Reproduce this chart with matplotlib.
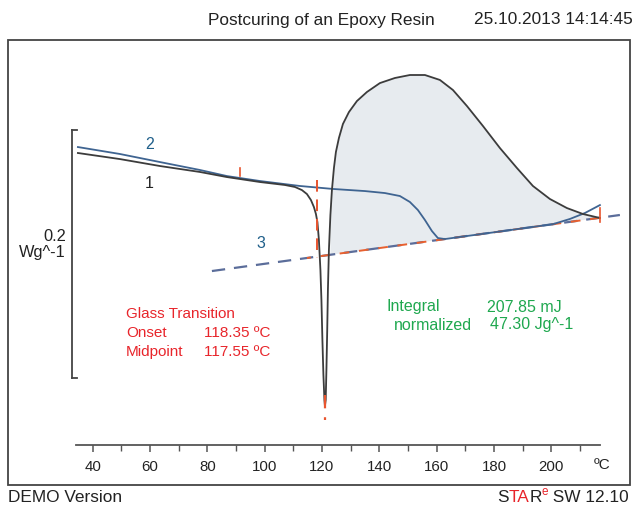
import numpy as np
import matplotlib
matplotlib.use("Agg")
import matplotlib.pyplot as plt
from matplotlib.patches import Rectangle

plt.rcParams['font.family'] = ['Liberation Sans', 'DejaVu Sans']

# ---- data (temperature in degC, heat flow in W/g) ----
curve1_T = [34.87, 49.52, 63.47, 77.43, 86.84, 98.35, 107.07, 110.56, 113.00, 114.75,
            116.14, 117.19, 117.89, 118.41, 118.93, 119.46, 119.81, 120.15, 120.50, 120.85,
            121.03, 121.30, 121.55, 121.83, 122.07, 122.42, 122.94, 123.47, 124.17, 124.86,
            125.91, 127.31, 129.40, 132.19, 135.68, 140.21, 145.45, 150.68, 155.91, 161.14,
            165.68, 170.56, 176.14, 182.07, 188.00, 193.58, 199.51, 205.44, 211.02, 216.95]
curve1_W = [0.2355, 0.2306, 0.2250, 0.2202, 0.2161, 0.2121, 0.2097, 0.2081, 0.2056, 0.2024,
            0.1976, 0.1919, 0.1863, 0.1798, 0.1653, 0.1411, 0.1169, 0.0847, 0.0565, 0.0363,
            0.0315, 0.0363, 0.0605, 0.0927, 0.1250, 0.1573, 0.1855, 0.2056, 0.2234, 0.2363,
            0.2476, 0.2589, 0.2685, 0.2774, 0.2847, 0.2919, 0.2960, 0.2984, 0.2984, 0.2944,
            0.2863, 0.2734, 0.2573, 0.2395, 0.2234, 0.2089, 0.1984, 0.1911, 0.1863, 0.1831]

curve2_T = [34.87, 49.52, 63.47, 77.43, 86.84, 98.35, 112.30, 123.81, 134.97, 141.94,
            147.18, 150.66, 153.46, 155.90, 158.34, 160.43, 162.88, 182.07, 200.56, 206.49,
            211.72, 216.95]
curve2_W = [0.2403, 0.2347, 0.2282, 0.2218, 0.2169, 0.2129, 0.2089, 0.2065, 0.2048, 0.2032,
            0.2008, 0.1960, 0.1895, 0.1815, 0.1726, 0.1669, 0.1661, 0.1722, 0.1781, 0.1823,
            0.1871, 0.1935]

baseline_T = [81.61, 223.92]
baseline_W = [0.1403, 0.1855]
red_base_T = [114.75, 218.70]
red_base_W = [0.1508, 0.1838]

onset_T = 118.35
onset_W = [0.2137, 0.1508]
dip_T = 121.2
dip_W = [0.0403, 0.0202]
tick_a_T = 91.4
tick_a_W = [0.2234, 0.2169]
tick_b_T = 216.95
tick_b_W = [0.1911, 0.1798]

x_major = [40, 60, 80, 100, 120, 140, 160, 180, 200]
x_minor = [50, 70, 90, 110, 130, 150, 170, 190, 210]
scale_bar_W = [0.0540, 0.2540]

W, H = 637, 508
fig = plt.figure(figsize=(W / 100, H / 100), dpi=100)
fig.patch.set_facecolor('white')

def fx(px):
    return px / W

def fy(py):
    return 1 - py / H

# frame
fig.patches.append(Rectangle((fx(8), fy(485)), fx(630) - fx(8), fy(40) - fy(485),
                             transform=fig.transFigure, fill=False,
                             edgecolor='#444444', linewidth=1.3))

ax = fig.add_axes([fx(76), fy(445), fx(625) - fx(76), fy(45) - fy(445)])
ax.set_xlim(34.2, 225.7)
ax.set_ylim(0, 0.3226)
ax.patch.set_alpha(0)
for s in ['top', 'right', 'left']:
    ax.spines[s].set_visible(False)
ax.spines['bottom'].set_bounds(34.2, 217.1)
ax.spines['bottom'].set_color('#555555')
ax.spines['bottom'].set_linewidth(1.3)
ax.set_yticks([])
ax.set_xticks(x_major)
ax.set_xticks(x_minor, minor=True)
ax.tick_params(axis='x', which='major', direction='out', length=5, width=1.1,
               color='#555555', labelsize=10.8, pad=6, labelcolor='#222222')
ax.tick_params(axis='x', which='minor', direction='out', length=4, width=1.0, color='#555555')

# shaded integral area
c1T = np.array(curve1_T)
c1W = np.array(curve1_W)
mask = c1T >= 122.94
fT = c1T[mask]
fW = c1W[mask]
bW = np.interp(fT, baseline_T, baseline_W)
ax.fill_between(fT, bW, fW, facecolor='#e7ebef', edgecolor='none', zorder=1)

# baseline 3 and red baseline
ax.plot(baseline_T, baseline_W, color='#5b6d9a', lw=1.6, ls=(0, (6, 4)), zorder=3, clip_on=False)
ax.plot(red_base_T, red_base_W, color='#e8602f', lw=1.4, ls=(3, (5, 5)), zorder=4, clip_on=False)

# curves
ax.plot(curve2_T, curve2_W, color='#3f6491', lw=1.3, zorder=5)
ax.plot(curve1_T, curve1_W, color='#3c3c3c', lw=1.3, zorder=6)

# red markers
ax.plot([onset_T, onset_T], onset_W, color='#e8552f', lw=1.4, ls=(0, (6, 4)), zorder=7)
ax.plot([dip_T, dip_T], dip_W, color='#e8552f', lw=1.6, ls=(0, (6, 4)), zorder=7)
ax.plot([tick_a_T, tick_a_T], tick_a_W, color='#e8552f', lw=1.2, zorder=7)
ax.plot([tick_b_T, tick_b_T], tick_b_W, color='#e8552f', lw=1.2, zorder=7)

# scale bar
ax.plot([32.8, 32.8], scale_bar_W, color='#444444', lw=1.3, clip_on=False)
ax.plot([32.8, 34.5], [scale_bar_W[0]] * 2, color='#444444', lw=1.3, clip_on=False)
ax.plot([32.8, 34.5], [scale_bar_W[1]] * 2, color='#444444', lw=1.3, clip_on=False)

def t(px, py, s, color='#222222', ha='left', size=11, **kw):
    return fig.text(fx(px), fy(py), s, color=color, ha=ha, va='center', fontsize=size, **kw)

# titles
t(208, 20, 'Postcuring of an Epoxy Resin', size=12.4)
t(633, 20, '25.10.2013 14:14:45', ha='right', size=12.4)
t(8, 497, 'DEMO Version', size=12.4)

# STARe SW 12.10
fig.canvas.draw()
r = fig.canvas.get_renderer()
x = 629
for s, col, sz, dy in [(' SW 12.10', '#222222', 12.4, 0), ('e', '#e8252b', 8.5, -5),
                       ('R', '#222222', 12.4, 0), ('TA', '#e8252b', 12.4, 0), ('S', '#222222', 12.4, 0)]:
    tx = t(x, 497 + dy, s, color=col, ha='right', size=sz)
    bb = tx.get_window_extent(renderer=r)
    x -= bb.width

t(594, 465, 'ºC', size=11)

# scale label
t(66, 236, '0.2', ha='right', size=11.8)
t(66, 253, 'Wg^-1', ha='right', size=11.8)

# curve labels
blue_lbl = '#1f5f8a'
t(145, 145, '2', color=blue_lbl, size=11.5)
t(145, 184, '1', color='#222222', size=11.5)
t(256, 244, '3', color=blue_lbl, size=11.5)

red = '#e8252b'
t(126, 314, 'Glass Transition', color=red)
t(126, 333, 'Onset', color=red)
t(204, 333, '118.35 ºC', color=red)
t(126, 352, 'Midpoint', color=red)
t(204, 352, '117.55 ºC', color=red)

green = '#1fa84f'
t(387, 307, 'Integral', color=green, size=11.5)
t(487, 307, '207.85 mJ', color=green, size=11.5)
t(394, 325, 'normalized', color=green, size=11.5)
t(490, 325, '47.30 Jg^-1', color=green, size=11.5)

fig.savefig('out.png', dpi=100)
